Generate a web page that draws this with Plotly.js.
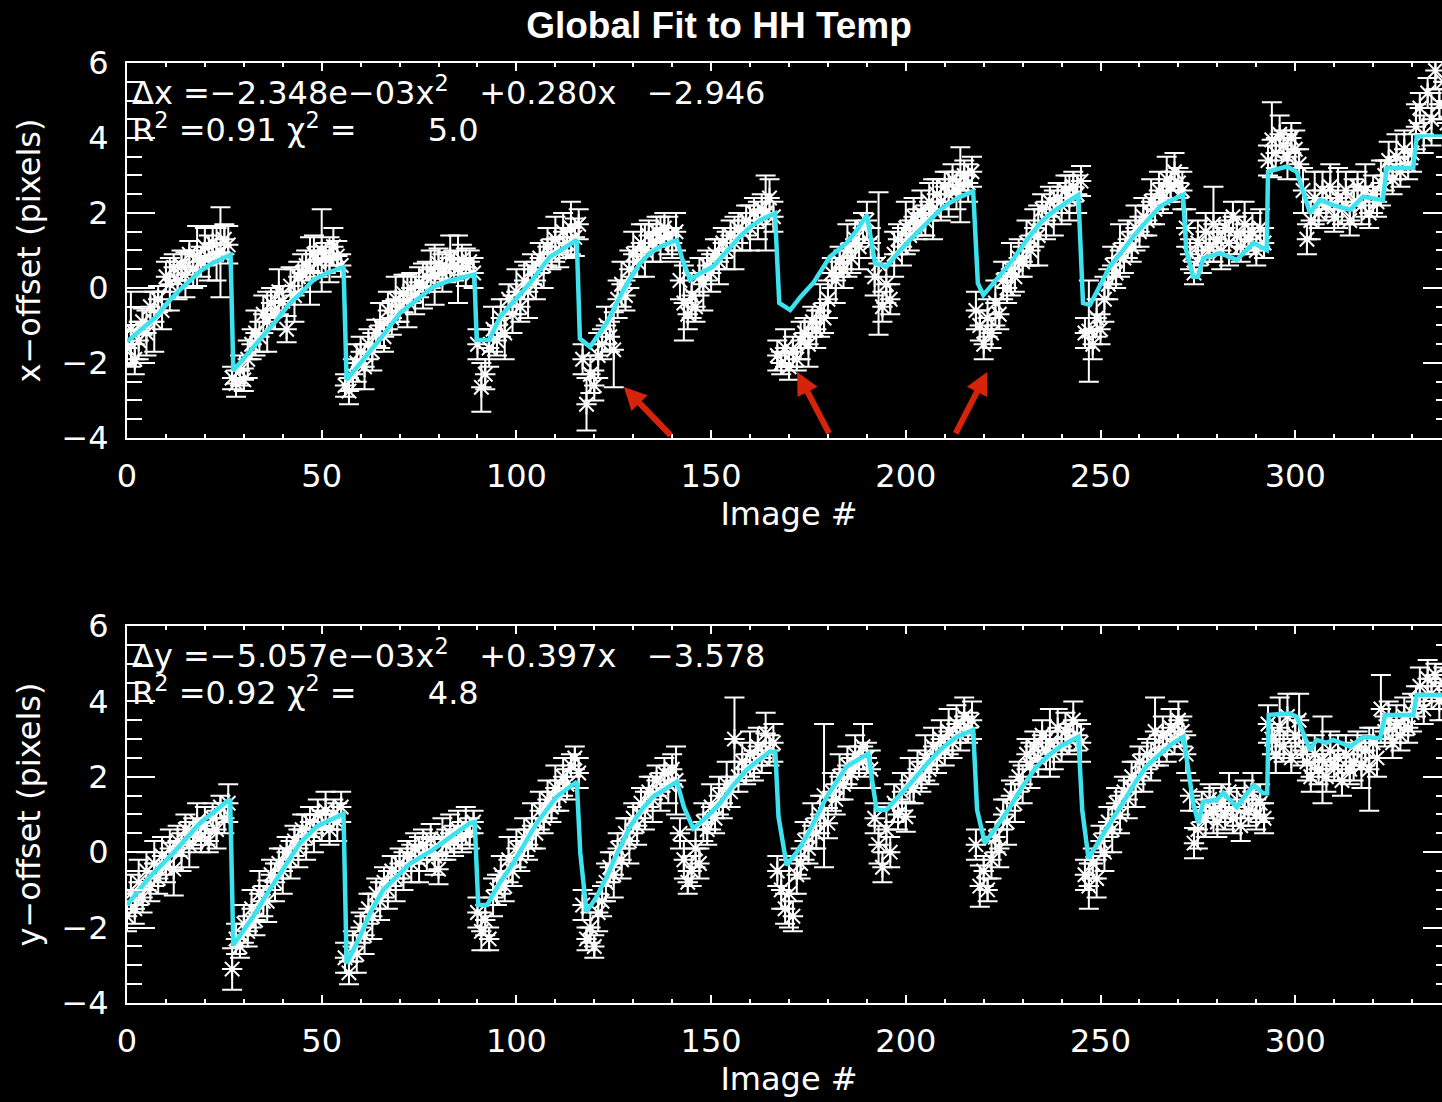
<!DOCTYPE html>
<html><head><meta charset="utf-8">
<script src="https://cdn.plot.ly/plotly-3.0.1.min.js"></script>
<style>html,body{margin:0;padding:0;background:#000;overflow:hidden;width:1442px;height:1102px}#chart{width:1452px;height:1102px}</style>
</head><body><div id="chart"></div><script>
// ---- Top panel: x-offset (pixels) per image ----
const xOffset = [
-1.6,-1.1,-1.9,-1.4,-0.9,-1.2,-0.5,-0.9,-0.3,-0.6,
0.3,0.1,0.55,0.2,0.6,0.35,0.9,0.5,0.85,0.7,
1.1,0.8,1.2,0.9,0.95,1.3,1.15,-2.4,-2.55,-2.2,
-2.45,-1.9,-1.5,-1.2,-1.3,-0.7,-0.9,-0.4,-0.6,-0.1,
-0.35,-1.1,0.05,-0.2,0.3,0.4,0.6,0.45,0.9,0.7,
1.0,0.8,0.75,1.1,0.85,0.6,-2.6,-2.75,-2.3,-2.0,
-1.7,-2.1,-1.5,-1.7,-1.2,-1.0,-1.3,-0.6,-0.8,-0.3,
-0.5,-0.15,-0.35,0.0,-0.2,0.15,0.05,0.3,0.5,0.35,
0.65,0.4,0.55,0.8,0.6,0.5,0.75,0.55,0.7,0.4,
-1.5,-2.65,-2.3,-1.6,-1.1,-1.4,-0.8,-1.2,-0.3,-0.7,
-0.1,-0.5,0.2,-0.1,0.5,0.2,0.8,0.6,1.1,0.9,
1.3,0.95,1.5,1.2,1.6,1.35,1.7,-1.9,-3.1,-2.3,
-2.6,-1.8,-1.5,-1.0,-1.3,-1.65,-0.3,0.1,-0.2,0.5,
0.9,0.7,1.2,1.0,1.4,1.2,1.5,1.3,1.6,1.4,
1.2,1.5,0.2,-0.4,-0.7,-0.2,-0.5,0.3,0.1,0.6,
0.4,0.9,0.7,1.2,1.0,1.4,1.2,1.6,1.5,1.8,
1.6,2.0,1.8,2.1,2.0,2.4,1.9,-1.8,-2.0,-1.6,
-2.1,-1.7,-1.9,-1.4,-1.2,-1.5,-0.9,-1.1,-0.6,-0.8,
-0.3,0.4,0.2,0.7,0.5,1.0,0.8,1.3,1.1,1.6,
1.8,1.2,0.3,0.65,-0.5,0.1,-0.3,0.9,1.3,1.1,
1.6,1.4,1.9,1.7,2.0,1.8,2.3,2.1,2.5,2.3,
2.7,2.5,2.9,2.6,2.75,3.0,2.8,3.1,-0.6,-1.0,
-1.5,-0.8,-1.2,-0.4,-0.7,0.2,0.0,0.5,0.3,0.8,
0.7,1.2,1.0,1.6,1.4,2.1,1.8,2.3,2.0,2.4,
2.2,2.6,2.4,2.7,2.5,2.85,-1.2,-1.15,-1.5,-0.8,
-1.1,-0.3,0.1,0.6,0.4,1.0,0.8,1.3,1.1,1.6,
1.5,1.9,1.8,2.3,2.1,2.6,2.4,2.9,2.7,3.1,
2.8,2.6,1.6,0.9,0.4,1.2,0.8,1.5,1.1,1.7,
1.3,1.0,1.6,1.2,1.9,1.4,1.1,1.7,1.3,1.5,
1.0,1.6,1.2,3.4,3.95,3.6,4.1,3.8,3.5,4.0,
3.7,3.3,2.6,1.3,1.8,2.4,2.0,2.6,2.2,2.7,
1.9,2.4,2.1,2.6,1.8,2.3,2.7,2.2,2.6,2.0,
2.5,2.3,2.8,3.0,3.4,2.9,3.5,3.1,3.7,3.3,
3.6,4.3,4.8,4.1,5.2,4.5,5.8,4.9,5.5,4.4];
const xOffsetErr = [
0.45,1.0,0.4,0.5,0.35,0.6,0.4,0.8,0.35,0.5,
0.4,0.7,0.35,0.5,0.4,0.6,0.35,0.5,0.8,0.4,
0.5,0.6,0.45,0.7,1.2,0.4,0.5,0.3,0.35,0.4,
0.3,0.5,0.4,0.6,0.4,0.5,0.8,0.4,0.5,0.6,
0.4,0.35,0.5,0.7,0.4,0.5,0.4,0.9,0.5,0.4,
1.1,0.4,0.6,0.5,0.4,0.3,0.3,0.35,0.4,0.5,
0.4,0.6,0.4,0.5,0.35,0.6,0.4,0.5,0.45,0.6,
0.4,0.5,0.7,0.4,0.5,0.4,0.6,0.4,0.5,0.8,
0.4,0.5,0.4,0.6,0.4,0.9,0.4,0.5,0.3,0.4,
0.4,0.65,0.4,0.5,0.6,0.4,0.5,0.7,0.4,0.5,
0.6,0.4,0.5,0.7,0.4,0.5,0.4,0.6,0.5,0.4,
0.6,0.4,0.5,0.4,0.7,0.5,0.4,0.4,0.7,0.5,
0.4,0.6,0.4,0.5,0.4,1.0,0.5,0.6,0.4,0.5,
0.6,0.4,0.5,0.7,0.4,0.5,0.4,0.6,0.4,0.5,
0.4,0.5,0.5,1.0,0.4,0.6,0.4,0.5,0.7,0.4,
0.5,0.4,0.6,0.4,0.5,0.4,0.7,0.4,0.5,0.4,
0.6,0.4,0.5,0.4,1.0,0.5,0.4,0.4,0.3,0.5,
0.35,0.4,0.3,0.5,0.4,0.6,0.4,0.5,0.7,0.4,
0.5,0.4,0.6,0.4,0.5,0.7,0.4,0.5,0.6,0.4,
0.5,0.4,0.5,1.9,0.4,0.5,0.4,0.6,0.4,0.5,
0.7,0.4,0.5,0.4,0.6,0.4,0.5,0.8,0.4,0.5,
0.4,0.6,0.4,0.5,1.0,0.4,0.5,0.4,0.5,0.4,
0.4,0.5,0.4,0.6,0.4,0.5,0.4,0.7,0.4,0.5,
0.4,0.6,0.4,0.5,0.8,0.4,0.5,0.4,0.6,0.4,
0.5,0.4,0.6,0.4,0.5,0.4,0.4,1.35,0.4,0.5,
0.4,0.6,0.4,0.5,0.4,0.7,0.4,0.5,0.4,0.6,
0.4,0.5,0.4,0.6,0.4,0.5,0.4,0.6,0.4,0.5,
0.4,0.5,0.5,0.4,0.3,0.6,0.4,0.5,0.4,1.0,
0.4,0.5,0.4,0.6,0.4,0.5,0.4,0.6,0.4,0.5,
0.4,0.5,0.4,0.4,1.0,0.4,0.5,0.4,0.6,0.4,
0.5,0.4,0.6,0.4,0.5,0.7,0.4,0.5,0.4,0.6,
0.4,0.8,0.4,0.5,0.4,0.6,0.4,0.5,0.7,0.4,
0.5,0.4,0.6,0.4,0.5,0.4,0.6,0.4,0.5,0.4,
0.5,0.6,0.4,0.5,0.4,0.7,0.5,0.4,0.6,0.4];
// fitted model (cyan) for x-offset
const fitXImage = [0,4,7.6,10.5,13.6,18.7,22,25.6,26.6,27.3,31,35.9,38.5,41.9,44.5,47.8,51,54.7,55.6,56.4,61.5,65.5,70.1,74.5,78.7,83,88.1,89.2,89.8,93,95.8,99.5,103.5,106,108.6,112,115.5,116.3,118.9,123.2,125.5,127.5,129.5,131.7,134,136.9,141.2,142.5,144.6,147,150.5,154,157.4,160,162.6,166.4,167.5,170.3,173,176.2,178.5,180.5,184.8,187.5,190,192.1,195.1,198.5,201.9,205.5,208.8,211,213.9,217.3,218.5,219.9,223,226.8,230.5,234.5,237,239.6,242,244.3,245.5,247.3,249.8,252.4,255.5,258.4,262,265.3,268,271.2,272,273.8,275,276.4,280.7,285,289.3,292.7,293,297.8,300.4,303.8,306.4,310,314.1,317.4,322.5,323.5,330.3,331.2,340];
const fitXValue = [-1.43,-1.08,-0.76,-0.38,-0.05,0.44,0.67,0.84,0.88,-2.2,-1.75,-1.2,-0.85,-0.4,-0.16,0.21,0.38,0.53,0.55,-2.45,-1.83,-1.3,-0.67,-0.3,0.03,0.2,0.35,0.36,-1.39,-1.39,-0.77,-0.35,0.13,0.48,0.83,1.05,1.28,-1.35,-1.57,-0.93,-0.45,-0.05,0.3,0.65,0.9,1.1,1.28,0.8,0.21,0.38,0.57,0.98,1.37,1.62,1.81,1.99,-0.4,-0.59,-0.23,0.13,0.5,0.83,1.2,1.55,1.95,0.66,0.57,1.0,1.37,1.75,2.08,2.25,2.43,2.57,0.13,-0.19,0.2,0.66,1.2,1.73,1.97,2.17,2.33,2.48,-0.4,-0.45,0.05,0.57,0.97,1.37,1.8,2.17,2.33,2.48,1.01,0.3,0.3,0.79,0.93,0.75,1.2,1.01,3.1,3.24,3.1,2.0,2.35,2.2,2.08,2.43,2.35,3.2,3.2,4.04,4.04];

// ---- Bottom panel: y-offset (pixels) per image ----
const yOffset = [
-1.7,-1.1,-1.5,-0.8,-1.2,-0.5,-0.9,-0.3,-0.7,-0.1,
-0.4,0.1,-0.45,0.3,0.0,0.6,0.2,0.5,0.8,0.4,
0.7,0.3,0.9,0.6,1.2,0.9,1.3,-3.1,-2.3,-2.5,
-1.9,-2.1,-1.5,-1.8,-1.1,-1.3,-1.3,-0.6,-0.8,-0.3,
-0.5,0.0,-0.2,0.3,0.1,0.6,0.4,0.8,0.5,1.0,
0.7,1.1,0.6,1.0,0.8,1.2,-2.8,-3.2,-2.5,-2.7,
-2.0,-2.2,-1.5,-1.7,-1.1,-1.3,-0.8,-1.0,-0.5,-0.7,
-0.3,-0.5,-0.1,-0.3,0.1,-0.2,0.2,0.0,0.35,-0.1,
-0.45,0.35,0.2,0.5,0.3,0.6,0.4,0.7,0.5,0.8,
-1.6,-2.1,-1.8,-2.3,-1.2,-1.0,-0.6,-0.9,-0.2,-0.5,
0.1,-0.1,0.4,0.2,0.7,0.5,1.1,0.9,1.4,1.2,
1.7,1.5,2.0,1.8,2.3,2.5,2.1,-1.4,-2.3,-2.0,
-2.5,-1.6,-1.3,-0.8,-0.4,-0.6,0.1,-0.2,0.5,0.3,
0.9,0.7,1.3,1.1,1.6,1.4,1.9,1.6,2.1,1.8,
2.2,1.9,0.5,-0.2,-0.8,-0.5,0.1,-0.3,0.8,0.6,
1.2,0.9,1.5,1.3,1.8,1.6,3.0,2.0,2.4,2.2,
2.6,2.3,2.8,2.5,3.15,2.7,2.9,-0.5,-1.0,-1.5,
-1.1,-1.7,-0.6,-0.3,0.3,0.1,0.7,0.5,1.0,1.5,
0.77,1.6,1.4,2.0,1.8,2.3,2.1,2.6,2.4,2.8,
2.5,2.2,0.9,0.2,-0.4,0.6,0.0,1.3,1.0,1.6,
0.94,1.9,1.7,2.2,2.0,2.5,2.2,2.8,2.5,3.0,
2.7,3.2,2.9,3.4,3.1,3.6,3.3,3.5,0.2,-0.9,
-0.5,-1.0,-0.2,0.4,0.1,1.0,0.8,1.5,1.3,2.0,
1.8,2.6,2.3,2.8,2.5,3.1,2.7,2.9,2.6,3.3,
2.8,3.2,3.0,3.5,3.1,2.9,-0.6,-0.9,-0.3,-0.7,
0.3,0.0,0.8,0.6,1.3,1.0,1.6,1.4,2.0,1.8,
2.4,2.1,2.6,2.4,3.2,2.7,3.1,2.8,3.3,3.0,
3.5,3.2,2.6,1.5,0.24,0.6,1.2,0.9,1.4,1.1,
0.8,1.3,1.0,1.6,0.9,1.2,0.7,1.4,1.1,1.6,
1.0,1.3,0.9,3.4,3.0,2.6,3.3,2.8,3.6,2.5,
3.1,3.5,2.7,2.4,2.0,2.6,2.2,2.45,2.0,2.7,
2.3,2.5,1.9,2.6,2.2,2.4,2.8,2.3,2.7,2.2,
2.9,2.5,3.8,3.2,3.5,2.9,3.4,3.1,3.6,3.3,
3.7,4.0,4.4,3.8,4.6,4.2,4.7,4.0,4.5,4.3];
const yOffsetErr = [
0.4,0.5,0.4,0.6,0.4,0.5,0.4,0.6,0.4,0.5,
0.4,0.5,0.7,0.4,0.5,0.4,0.6,0.4,0.5,0.4,
0.5,0.3,0.4,0.5,0.3,0.4,0.5,0.55,0.4,0.3,
0.5,0.4,0.5,0.4,0.6,0.4,0.55,0.4,0.5,0.4,
0.6,0.4,0.5,0.4,0.5,0.4,0.6,0.4,0.5,0.4,
0.4,0.5,0.4,0.4,0.5,0.4,0.4,0.3,0.4,0.5,
0.4,0.5,0.4,0.6,0.4,0.5,0.4,0.5,0.4,0.6,
0.4,0.5,0.4,0.5,0.4,0.6,0.4,0.5,0.4,0.5,
0.4,0.55,0.4,0.5,0.4,0.5,0.4,0.5,0.4,0.3,
0.4,0.5,0.4,0.3,0.5,0.4,0.5,0.4,0.6,0.4,
0.5,0.4,0.5,0.4,0.6,0.4,0.5,0.4,0.5,0.4,
0.6,0.4,0.5,0.4,0.3,0.3,0.4,0.4,0.3,0.4,
0.3,0.5,0.4,0.5,0.4,0.6,0.4,0.5,0.4,0.6,
0.4,0.5,0.4,0.5,0.4,0.6,0.4,0.5,0.4,0.5,
0.4,0.9,0.4,0.5,0.3,0.4,0.5,0.4,0.5,0.4,
0.6,0.4,0.5,0.4,0.6,0.4,1.1,0.4,0.5,0.4,
0.6,0.4,0.5,0.4,0.55,0.4,0.5,0.4,0.5,0.4,
0.9,0.4,0.5,0.4,0.5,0.4,0.6,0.4,0.5,1.9,
0.4,0.5,0.4,0.6,0.4,0.5,0.4,0.5,0.4,0.6,
0.4,0.5,0.4,0.5,0.4,0.6,0.4,0.5,0.4,0.5,
0.4,0.6,0.4,0.5,0.4,0.6,0.4,0.5,0.4,0.5,
0.4,0.6,0.4,0.5,0.4,0.5,0.4,0.5,0.4,0.55,
0.4,0.3,0.5,0.4,0.5,0.4,0.6,0.4,0.5,0.4,
0.5,0.4,0.6,0.4,0.5,0.4,0.5,0.9,0.4,0.5,
0.4,0.5,0.4,0.5,0.4,0.5,0.4,0.6,0.4,0.5,
0.4,0.5,0.4,0.6,0.4,0.5,0.4,0.5,0.4,0.6,
0.4,0.5,0.4,0.5,0.9,0.4,0.5,0.4,0.5,0.4,
0.5,0.4,0.5,0.4,0.4,0.5,0.4,0.5,0.4,0.6,
0.4,0.5,0.4,0.5,0.4,0.5,0.4,0.5,0.4,0.5,
0.4,0.5,0.4,0.5,0.4,0.5,0.8,0.4,0.6,0.4,
0.5,0.7,0.4,0.5,0.4,0.5,0.4,1.15,0.4,0.5,
0.4,0.6,0.4,0.5,0.4,0.5,0.4,0.6,0.4,1.1,
0.4,0.5,0.9,0.4,0.5,0.4,0.5,0.4,0.5,0.4,
0.5,0.4,0.5,0.4,0.5,0.4,0.3,0.5,0.4,0.5];
// fitted model (cyan) for y-offset
const fitYImage = [0,5.9,11.9,18.7,25.6,26.5,27.3,32.4,36,39.3,44.4,48.7,54.7,55.6,56.4,59.8,62.5,65.8,72.7,78.6,83,88.1,89.3,90.2,92.5,95.5,99.2,105.2,110.3,115.5,116.4,118,120.5,123.2,126,129.2,132,135.1,141.2,143,145.4,148.5,152.3,155.5,159.1,165.1,166.5,167.3,169.4,172,174.5,177,179.7,184.8,190.4,191.5,192.5,195,198.5,201.9,205.5,208.8,213.1,217.3,218.3,220.3,223.5,226.8,230,233.6,236.5,239.6,244.3,245.3,246.9,249.5,252.4,256,259.3,262,265.3,268,271.3,272.5,273.8,275.1,276.4,279.8,281.5,285,289.3,291.8,292.8,293.2,298.7,300.4,303.8,305.5,308,309.8,314.1,317.5,321.8,323.1,330.3,331.2,340];
const fitYValue = [-1.4,-0.65,-0.02,0.77,1.34,1.4,-2.46,-1.71,-1.1,-0.56,0.24,0.68,1.0,1.02,-2.95,-2.24,-1.6,-1.0,-0.3,0.06,0.4,0.77,0.8,-1.4,-1.4,-0.85,-0.29,0.77,1.47,1.87,-0.02,-1.58,-1.2,-0.65,0.0,0.68,1.1,1.47,1.87,1.2,0.63,0.9,1.3,1.75,2.18,2.67,2.65,0.94,-0.34,0.0,0.41,0.95,1.47,2.27,2.62,1.8,1.12,1.12,1.5,1.91,2.35,2.71,3.06,3.24,1.12,0.24,0.7,1.2,1.75,2.27,2.55,2.8,3.06,1.12,-0.16,0.3,0.77,1.35,1.91,2.3,2.62,2.85,3.06,2.2,1.3,0.77,1.34,1.39,1.57,1.2,1.78,1.56,1.56,3.64,3.68,3.59,2.71,2.98,2.9,2.98,2.8,3.06,3.02,3.64,3.64,4.17,4.17];

// red arrows (tip image, tip offset, tail image, tail offset) on top panel
const arrowTipImage = [127.6, 172.1, 220.9];
const arrowTipValue = [-2.64, -2.24, -2.24];
const arrowTailImage = [140.0, 180.5, 212.6];
const arrowTailValue = [-3.97, -3.92, -3.92];

const imageNumX = xOffset.map((_, i) => i);
const imageNumY = yOffset.map((_, i) => i);

const WHITE = '#ffffff';
const CYAN = '#3ce2ee';
const FONT = 'DejaVu Sans, sans-serif';
const tfont = {family: FONT, size: 32, color: WHITE};

function scatterTrace(x, y, err, xa, ya) {
  return {x, y, type: 'scatter', mode: 'markers', xaxis: xa, yaxis: ya,
    marker: {symbol: 'asterisk-open', size: 17, color: WHITE, line: {color: WHITE, width: 2}},
    error_y: {type: 'data', array: err, visible: true, color: WHITE, thickness: 2, width: 10},
    hoverinfo: 'skip', showlegend: false};
}
function fitTrace(x, y, xa, ya) {
  return {x, y, type: 'scatter', mode: 'lines', xaxis: xa, yaxis: ya,
    line: {color: CYAN, width: 4.5}, hoverinfo: 'skip', showlegend: false};
}
function xAxisDef(anchor) {
  return {anchor, domain: [0, 1], range: [0, 340], tick0: 0, dtick: 50,
    ticks: 'inside', ticklen: 8, tickwidth: 2, tickcolor: WHITE,
    minor: {dtick: 10, ticks: 'inside', ticklen: 4, tickwidth: 2, tickcolor: WHITE},
    showline: true, linecolor: WHITE, linewidth: 2, mirror: 'allticks',
    showgrid: false, zeroline: false, tickfont: tfont, ticklabelstandoff: 9,
    title: {text: 'Image #', font: tfont, standoff: 6}};
}
function yAxisDef(anchor, domain, label) {
  return {anchor, domain, range: [-4, 6], tick0: -4, dtick: 2,
    ticks: 'inside', ticklen: 28, tickwidth: 2, tickcolor: WHITE,
    minor: {dtick: 0.5, ticks: 'inside', ticklen: 15, tickwidth: 2, tickcolor: WHITE},
    showline: true, linecolor: WHITE, linewidth: 2, mirror: 'allticks',
    showgrid: false, zeroline: false, tickfont: tfont, ticklabelstandoff: 10,
    title: {text: label, font: tfont, standoff: 11}};
}

const data = [
  scatterTrace(imageNumX, xOffset, xOffsetErr, 'x', 'y'),
  fitTrace(fitXImage, fitXValue, 'x', 'y'),
  scatterTrace(imageNumY, yOffset, yOffsetErr, 'x2', 'y2'),
  fitTrace(fitYImage, fitYValue, 'x2', 'y2')
];

const NB = '\u00a0';
const annotations = [
  {xref: 'paper', yref: 'paper', x: 0.0023, y: 0.9702, xanchor: 'left', yanchor: 'middle', showarrow: false,
   text: '\u0394x' + NB + '=\u22122.348e\u221203x<sup>2</sup>' + NB.repeat(3) + '+0.280x' + NB.repeat(3) + '\u22122.946', font: tfont},
  {xref: 'paper', yref: 'paper', x: 0.0023, y: 0.9309, xanchor: 'left', yanchor: 'middle', showarrow: false,
   text: 'R<sup>2</sup>' + NB + '=0.91' + NB + '\u03c7<sup>2</sup>' + NB + '=' + NB.repeat(7) + '5.0', font: tfont},
  {xref: 'paper', yref: 'paper', x: 0.0023, y: 0.3713, xanchor: 'left', yanchor: 'middle', showarrow: false,
   text: '\u0394y' + NB + '=\u22125.057e\u221203x<sup>2</sup>' + NB.repeat(3) + '+0.397x' + NB.repeat(3) + '\u22123.578', font: tfont},
  {xref: 'paper', yref: 'paper', x: 0.0023, y: 0.3319, xanchor: 'left', yanchor: 'middle', showarrow: false,
   text: 'R<sup>2</sup>' + NB + '=0.92' + NB + '\u03c7<sup>2</sup>' + NB + '=' + NB.repeat(7) + '4.8', font: tfont}
];
arrowTipImage.forEach((xi, k) => {
  annotations.push({xref: 'x', yref: 'y', axref: 'x', ayref: 'y', x: xi, y: arrowTipValue[k],
    ax: arrowTailImage[k], ay: arrowTailValue[k], text: '', showarrow: true,
    arrowhead: 2, arrowsize: 0.75, arrowwidth: 6, arrowcolor: '#d6230c', standoff: 0});
});

const layout = {
  width: 1452, height: 1102,
  paper_bgcolor: '#000000', plot_bgcolor: '#000000',
  margin: {l: 127, r: 1, t: 63, b: 99},
  showlegend: false,
  title: {text: '<b>Global Fit to HH Temp</b>', font: {family: 'Liberation Sans, Arial, sans-serif', size: 37, color: WHITE},
    x: 719 / 1452, xref: 'container', xanchor: 'center', y: 1 - 25 / 1102, yref: 'container', yanchor: 'middle'},
  xaxis: xAxisDef('y'),
  yaxis: yAxisDef('x', [0.6011, 1], 'x\u2212offset (pixels)'),
  xaxis2: xAxisDef('y2'),
  yaxis2: yAxisDef('x2', [0, 0.4011], 'y\u2212offset (pixels)'),
  annotations
};

Plotly.newPlot('chart', data, layout, {staticPlot: true, displayModeBar: false});
</script></body></html>
